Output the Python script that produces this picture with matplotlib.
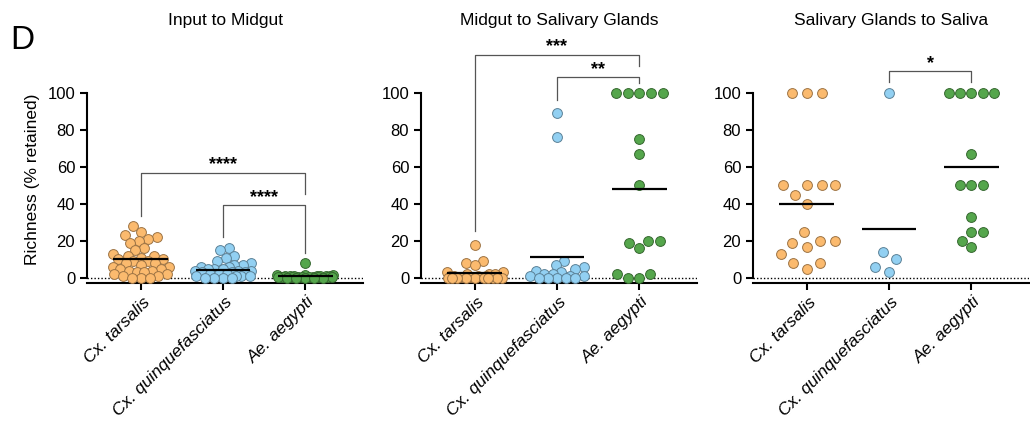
import matplotlib.pyplot as plt
from matplotlib.transforms import ScaledTranslation
import numpy as np

plt.rcParams["font.family"] = ["Liberation Sans", "DejaVu Sans"]

species = ["Cx. tarsalis", "Cx. quinquefasciatus", "Ae. aegypti"]
colors = ["#FBBA6E", "#92D0F2", "#55A64C"]

# Input to Midgut
in_tarsalis = [28, 25, 23, 22, 21, 20, 19, 16, 15, 13, 12, 12, 11, 10, 10, 9, 9, 8,
               8, 7, 6, 6, 5, 5, 4, 4, 3, 3, 2, 2, 1, 1, 0, 0, 0]
in_quinque = [16, 15, 12, 11, 9, 8, 7, 7, 6, 6, 5, 5, 5, 4, 4, 4, 3, 3, 3, 2, 2, 2,
              1, 1, 1, 1, 0, 0, 0, 0]
in_aegypti = [8, 1.5, 1.5, 1.5, 1.2, 1.2, 1, 1, 1, 1, 1, 0.8, 0.8, 0.8, 0.6, 0.6,
              0.5, 0.5, 0.5, 0.4, 0.3, 0.3, 0.2, 0.1, 0, 0, 0]
in_means = [10.3, 4.4, 1.1]

# Midgut to Salivary Glands
mg_tarsalis = [18, 9, 8, 7, 3, 3, 2, 2, 2, 1, 1, 1, 1, 0.5, 0.5, 0, 0, 0, 0, 0, 0,
               0, 0, 0, 0]
mg_quinque = [89, 76, 9, 7, 6, 5, 4, 3, 2, 2, 1, 1, 1, 0, 0, 0, 0, 0]
mg_aegypti = [100, 100, 100, 100, 100, 75, 67, 50, 20, 19, 20, 16, 2, 2, 0, 0]
mg_means = [2.7, 11.2, 48.1]

# Salivary Glands to Saliva
sg_tarsalis = [100, 100, 100, 50, 50, 50, 50, 45, 40, 25, 20, 20, 19, 17, 13, 8, 8, 5]
sg_quinque = [100, 14, 10, 6, 3]
sg_aegypti = [100, 100, 100, 100, 100, 67, 50, 50, 50, 33, 25, 25, 20, 17]
sg_means = [40.1, 26.6, 59.8]

titles = ["Input to Midgut", "Midgut to Salivary Glands", "Salivary Glands to Saliva"]
panel_data = [
    [in_tarsalis, in_quinque, in_aegypti],
    [mg_tarsalis, mg_quinque, mg_aegypti],
    [sg_tarsalis, sg_quinque, sg_aegypti],
]
panel_means = [in_means, mg_means, sg_means]

# significance brackets: (group a, group b, bar y, leg a end, leg b end, label)
panel_brackets = [
    [(0, 2, 57, 33.5, 45.4, "****"), (1, 2, 39.5, 22.3, 13.5, "****")],
    [(0, 2, 120.7, 25.2, 114.4, "***"), (1, 2, 108.6, 96, 105.4, "**")],
    [(1, 2, 111.7, 105.8, 105.8, "*")],
]

# preferred centre spacing of dots (pixels) per group
spacing = [[9, 9, 9], [9, 9, 11.7], [15, 15, 11.2]]

PX_Y = 1.85    # pixels per y unit
PX_X = 82.5    # pixels per category


def swarm(values, d, half):
    """Beeswarm x offsets in pixels, kept within +-half (dots overlap when crowded)."""
    y = np.asarray(values, float) * PX_Y
    order = np.argsort(y, kind="stable")
    xs = np.zeros(len(y))
    done = []
    grid = np.linspace(-half, half, 31)
    for i in order:
        forb = []
        cands = [0.0]
        for j in done:
            dy = abs(y[i] - y[j])
            if dy < d:
                dx = np.sqrt(d * d - dy * dy)
                forb.append((xs[j] - dx, xs[j] + dx))
                cands += [xs[j] - dx, xs[j] + dx]
        ok = [c for c in cands if abs(c) <= half and
              all(not (lo + 1e-6 < c < hi - 1e-6) for lo, hi in forb)]
        if ok:
            xs[i] = min(ok, key=lambda c: (abs(c), c))
        else:
            # no free slot: take the least crowded spot inside the band
            px = np.array([xs[j] for j in done])
            py = np.array([y[j] for j in done])
            dist = [np.min(np.hypot(px - g, py - y[i])) for g in grid]
            xs[i] = grid[int(np.argmax(dist))]
        done.append(i)
    return xs


fig = plt.figure(figsize=(10.3, 4.22), dpi=100)
lefts = [87, 421, 753]
shift = ScaledTranslation(5 / 72, 0, fig.dpi_scale_trans)

for k in range(3):
    ax = fig.add_axes([lefts[k] / 1030, 1 - 283 / 422, 276 / 1030, (283 - 40) / 422])

    for i, vals in enumerate(panel_data[k]):
        off = swarm(vals, spacing[k][i], 28) / PX_X
        edge = np.array(plt.matplotlib.colors.to_rgb(colors[i])) * 0.62
        ax.scatter(i + off, vals, s=50, color=colors[i], edgecolors=[edge],
                   linewidths=0.7, zorder=3, clip_on=False)

    ax.axhline(0, color="black", lw=1, ls=(0, (1, 1.5)), zorder=1)
    for i, m in enumerate(panel_means[k]):
        ax.hlines(m, i - 0.33, i + 0.33, color="black", lw=1.6, zorder=5)

    for a, b, y, ya, yb, lab in panel_brackets[k]:
        ax.plot([a, a, b, b], [ya, y, y, yb], color="#555555", lw=0.9,
                clip_on=False, zorder=2)
        ax.text((a + b) / 2, y - 0.5, lab, ha="center", va="bottom", fontsize=13,
                fontweight="bold", clip_on=False)

    ax.set_xlim(-0.65, 2.7)
    ax.set_ylim(-2.7, 128.6)
    ax.set_yticks([0, 20, 40, 60, 80, 100])
    ax.spines["left"].set_bounds(0, 100)
    ax.spines["top"].set_visible(False)
    ax.spines["right"].set_visible(False)
    for s in ["left", "bottom"]:
        ax.spines[s].set_linewidth(1.5)
    ax.tick_params(axis="both", width=1.5, length=5, labelsize=12, color="black")
    ax.tick_params(axis="x", pad=7)
    ax.set_xticks(range(3))
    ax.set_xticklabels(species, rotation=45, ha="right", va="center",
                       rotation_mode="anchor", fontstyle="italic", fontsize=12.5)
    for lbl in ax.get_xticklabels():
        lbl.set_transform(lbl.get_transform() + shift)
    if k == 0:
        ax.set_ylabel("Richness (% retained)", fontsize=12.5)
        ax.yaxis.set_label_coords(-0.17, 0.428)
    fig.text((lefts[k] + 138) / 1030, 1 - 20 / 422, titles[k], ha="center",
             va="center", fontsize=12.5)

fig.text(10 / 1030, 1 - 49 / 422, "D", fontsize=24, va="baseline")

fig.savefig("out.png", dpi=100)
